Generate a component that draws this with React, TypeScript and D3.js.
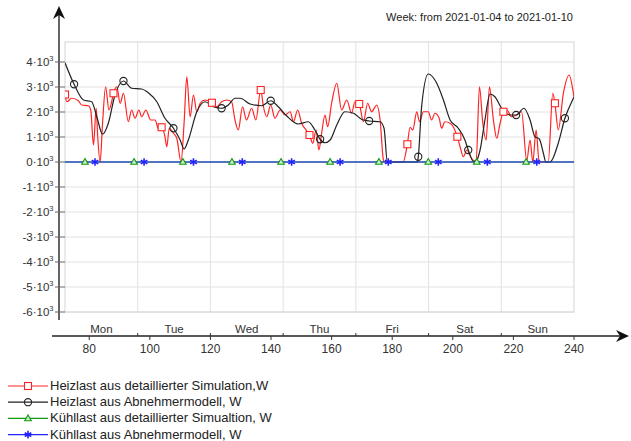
import React from 'react';
import * as d3 from 'd3';

// heating load, detailed simulation (hour of year, W)
const heatSimX = [72, 72.6, 74.2, 76.4, 77.5, 79.7, 80.5, 81.4, 82.3, 82.8, 83.6, 84.4, 85.4, 86.5, 87.4, 88.0, 89.1, 90.2, 91.3, 92.9, 94.0, 95.1, 96.4, 97.3, 98.7, 100.3, 101.7, 103.0, 103.9, 105.0, 105.6, 106.4, 107.8, 108.9, 110.3, 111.3, 112.2, 113.3, 114.4, 115.5, 116.6, 118.2, 120.5, 122.1, 123.7, 125.4, 127.0, 128.1, 129.2, 130.6, 131.9, 133.6, 135.0, 136.6, 137.5, 138.6, 139.9, 141.3, 143.0, 144.6, 146.3, 147.4, 148.8, 150.1, 151.6, 152.7, 153.8, 154.9, 155.8, 156.7, 157.8, 158.7, 160.0, 161.7, 163.3, 165.0, 166.6, 167.7, 169.1, 170.5, 171.9, 173.2, 174.9, 176.0, 177.1, 177.5, 183.6, 185.0, 185.9, 186.8, 188.1, 189.0, 190.3, 191.9, 193.0, 194.1, 195.5, 196.3, 197.4, 199.1, 201.5, 202.4, 203.5, 204.6, 206.2, 207.7, 208.8, 209.9, 211.0, 212.1, 213.4, 214.5, 215.6, 216.7, 217.8, 219.4, 221.1, 222.7, 224.4, 225.5, 226.4, 227.5, 228.5, 231.5, 233.0, 233.7, 234.8, 236.5, 238.4, 239.8, 240];
const heatSimW = [2700, 2410, 2550, 2450, 2280, 2250, 2080, 680, 2150, 1010, 0, 1550, 3010, 2080, 2410, 2750, 3010, 2350, 2750, 1610, 2080, 1750, 2080, 1810, 2080, 1680, 1680, 1280, 1390, 1010, 610, 1350, 1150, 950, 0, 1550, 3410, 1810, 2680, 2010, 2350, 2480, 2370, 2210, 2410, 2480, 2410, 1680, 1280, 2210, 1680, 2150, 1680, 2880, 2210, 1810, 2280, 1750, 2080, 1880, 2010, 1610, 2080, 1550, 1280, 1080, 750, 1280, 480, 1150, 1880, 1410, 2350, 3150, 2080, 2480, 1950, 2410, 2320, 1610, 2350, 2010, 2280, 1680, 80, 0, 0, 710, 1390, 1280, 2010, 1610, 2010, 2010, 1680, 1950, 1750, 1350, 1610, 1550, 1010, 610, 210, 480, 150, 0, 3010, 1550, 880, 3010, 1680, 950, 1550, 2010, 2080, 1810, 1880, 2010, 50, 880, 0, 1280, 0, 0, 2750, 2350, 1280, 2750, 3480, 2750, 2600];

// heating load, consumer model
const heatModX = [72, 75.0, 78.1, 80.8, 82.5, 84.4, 86.3, 88.5, 91.3, 94.0, 97.3, 99.5, 102.3, 105, 107.8, 110, 111.3, 112.7, 115.5, 118.2, 121.0, 123.7, 125.9, 128.1, 129.8, 133.1, 136.9, 139.9, 142.4, 145.2, 149.0, 152.3, 154.5, 156.2, 157.8, 159.5, 161.7, 164.4, 167.2, 169.9, 172.4, 176.0, 177.3, 178.4, 188.3, 188.6, 189.7, 191.9, 194.7, 196.9, 199.1, 201.8, 204.0, 205.1, 206.8, 208.0, 209.0, 210.6, 212.3, 213.9, 216.1, 218.9, 220.9, 223.5, 225.5, 227.1, 228.5, 229.9, 230.7, 232.1, 234.8, 237.0, 239.8, 240];
const heatModW = [3970, 3110, 2480, 2410, 1810, 1110, 1550, 2680, 3240, 2950, 2920, 2770, 2410, 1750, 1350, 880, 520, 880, 2010, 2410, 2210, 2150, 2280, 2550, 2550, 2320, 2250, 2450, 2210, 1840, 1520, 1610, 1280, 910, 770, 880, 1480, 2010, 1950, 1710, 1640, 1610, 1350, 0, 0, 210, 2210, 3520, 3150, 2480, 1680, 1350, 880, 480, 20, 100, 480, 1680, 2720, 2610, 2150, 1880, 1880, 2150, 1680, 1010, 930, 350, 0, 0, 750, 1750, 2550, 2600];

// cooling loads (both zero all week)
const coolX = [72, 240];
const coolSimW = [0, 0];
const coolModW = [0, 0];

// marker positions (hours)
const heatSimMarks = [72, 88.0, 103.9, 120.5, 136.6, 152.7, 169.1, 185.0, 201.5, 216.7, 233.7];
const heatModMarks = [75.0, 91.3, 107.8, 123.7, 139.9, 156.2, 172.4, 188.6, 205.1, 220.9, 237.0];
const coolSimMarks = [78.6, 94.8, 110.9, 127.1, 143.3, 159.5, 175.6, 191.9, 207.9, 224.2];
const coolModMarks = [81.9, 98.1, 114.4, 130.5, 146.8, 162.8, 178.7, 195.2, 211.4, 227.7];

const yTicks = [-6, -5, -4, -3, -2, -1, 0, 1, 2, 3, 4];
const xTicks = [80, 100, 120, 140, 160, 180, 200, 220, 240];
const dayBounds = [96, 120, 144, 168, 192, 216];
const days = ['Mon', 'Tue', 'Wed', 'Thu', 'Fri', 'Sat', 'Sun'];
const dayStart = 72;

const legendLabels = [
  'Heizlast aus detaillierter Simulation,W',
  'Heizlast aus Abnehmermodell, W',
  'Kühllast aus detaillierter Simualtion, W',
  'Kühllast aus Abnehmermodell, W',
];

const FONT = '"Liberation Sans", Arial, sans-serif';

const left = 65;
const right = 574;
const top = 42;
const bottom = 312;

type Pt = [number, number];

const zip = (xs: number[], ys: number[]): Pt[] => xs.map((v, i) => [v, ys[i]]);

// value of a series at hour h (linear between read points)
const valueAt = (xs: number[], ys: number[], h: number) => {
  const i = d3.bisectLeft(xs, h);
  if (i <= 0) return ys[0];
  if (i >= xs.length) return ys[ys.length - 1];
  const t = (h - xs[i - 1]) / (xs[i] - xs[i - 1] || 1);
  return ys[i - 1] + t * (ys[i] - ys[i - 1]);
};

const Marker: React.FC<{ kind: number; x: number; y: number; color: string }> = ({ kind, x, y, color }) => {
  if (kind === 0)
    return <rect x={x - 3.5} y={y - 3.5} width={7} height={7} fill="white" stroke={color} strokeWidth={1.1} />;
  if (kind === 1) return <circle cx={x} cy={y} r={3.6} fill="none" stroke={color} strokeWidth={1.1} />;
  if (kind === 2)
    return (
      <path
        d={`M${x},${y - 3.5}L${x + 3.3},${y + 2.3}L${x - 3.3},${y + 2.3}Z`}
        fill="#ccebcc"
        stroke={color}
        strokeWidth={1.1}
      />
    );
  const s = d3.symbol().type(d3.symbolAsterisk).size(40)();
  return <path d={s || ''} transform={`translate(${x},${y})`} fill="none" stroke={color} strokeWidth={1.6} />;
};

const App: React.FC = () => {
  const x = d3.scaleLinear().domain([72, 240]).range([left, right]);
  const y = d3.scaleLinear().domain([-6000, 4800]).range([bottom, top]);

  const line = d3
    .line<Pt>()
    .x((d) => x(d[0]))
    .y((d) => y(d[1]))
    .curve(d3.curveMonotoneX);

  const series = [
    { color: '#ff2424', xs: heatSimX, ys: heatSimW, marks: heatSimMarks },
    { color: '#222222', xs: heatModX, ys: heatModW, marks: heatModMarks },
    { color: '#119911', xs: coolX, ys: coolSimW, marks: coolSimMarks },
    { color: '#2222ff', xs: coolX, ys: coolModW, marks: coolModMarks },
  ];

  const axisY = 336;
  const axisX = 59;

  return (
    <svg
      width={631}
      height={441}
      style={{ position: 'absolute', left: 0, top: 0, background: 'white' }}
      fontFamily={FONT}
    >
      <defs>
        <clipPath id="plotClip">
          <rect x={left} y={top - 5} width={right - left} height={bottom - top + 5} />
        </clipPath>
      </defs>

      {/* title */}
      <text x={573} y={21} textAnchor="end" fontSize={11} fill="#222">
        Week: from 2021-01-04 to 2021-01-10
      </text>

      {/* grid */}
      {yTicks.map((t) => (
        <line key={t} x1={left} x2={right} y1={y(t * 1000)} y2={y(t * 1000)} stroke="#e2e2e2" strokeWidth={1} />
      ))}
      {dayBounds.map((d) => (
        <line key={d} x1={x(d)} x2={x(d)} y1={top} y2={bottom} stroke="#e2e2e2" strokeWidth={1} />
      ))}
      <rect x={left} y={top} width={right - left} height={bottom - top} fill="none" stroke="#d4d4d4" strokeWidth={1} />

      {/* series */}
      <g clipPath="url(#plotClip)">
        {series.map((s, i) => (
          <path key={i} d={line(zip(s.xs, s.ys)) || ''} fill="none" stroke={s.color} strokeWidth={1.2} />
        ))}
        {series.map((s, i) =>
          s.marks.map((h, j) => (
            <Marker key={`${i}-${j}`} kind={i} x={x(h)} y={y(valueAt(s.xs, s.ys, h))} color={s.color} />
          ))
        )}
      </g>

      {/* y axis */}
      <line x1={axisX} x2={axisX} y1={12} y2={320} stroke="#222" strokeWidth={1.4} />
      <path d={`M${axisX},6L${axisX - 6},19L${axisX},15L${axisX + 6},19Z`} fill="#111" />
      {yTicks.map((t) => (
        <g key={t}>
          <line x1={55} x2={left} y1={y(t * 1000)} y2={y(t * 1000)} stroke="#666" strokeWidth={1} />
          <text x={53.5} y={y(t * 1000) + 4} textAnchor="end" fontSize={11.5} fill="#333">
            {`${t}·10`}
            <tspan fontSize={7.5} dy={-5.5}>
              3
            </tspan>
          </text>
        </g>
      ))}

      {/* x axis */}
      <line x1={52} x2={624} y1={axisY} y2={axisY} stroke="#222" strokeWidth={1.4} />
      <path d={`M629,${axisY}L616,${axisY - 6}L620,${axisY}L616,${axisY + 6}Z`} fill="#111" />
      {xTicks.map((t) => (
        <g key={t}>
          <line x1={x(t)} x2={x(t)} y1={axisY} y2={axisY + 4} stroke="#333" strokeWidth={1} />
          <text x={x(t)} y={353} textAnchor="middle" fontSize={12} fill="#333">
            {t}
          </text>
        </g>
      ))}
      {dayBounds.map((d) => (
        <line key={d} x1={x(d)} x2={x(d)} y1={axisY - 3} y2={axisY} stroke="#333" strokeWidth={1} />
      ))}
      {days.map((d, i) => (
        <text key={d} x={x(dayStart + i * 24 + 12)} y={333} textAnchor="middle" fontSize={11.5} fill="#333">
          {d}
        </text>
      ))}

      {/* legend */}
      {series.map((s, i) => {
        const ly = 386 + i * 16.2;
        return (
          <g key={i}>
            <line x1={8} x2={48} y1={ly} y2={ly} stroke={s.color} strokeWidth={1.2} />
            <Marker kind={i} x={28} y={ly} color={s.color} />
            <text x={50} y={ly + 4} fontSize={13} fill="#222">
              {legendLabels[i]}
            </text>
          </g>
        );
      })}
    </svg>
  );
};

export default App;
